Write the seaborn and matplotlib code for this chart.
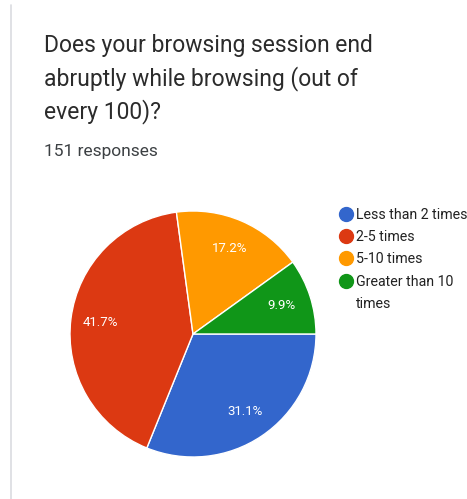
import matplotlib
matplotlib.use("Agg")
import matplotlib.pyplot as plt
from matplotlib.lines import Line2D
import seaborn as sns

# survey answers, counts out of 151 responses
answers = ["Less than 2 times", "2-5 times", "5-10 times", "Greater than 10 times"]
counts = [47, 63, 26, 15]
colors = ["#3366cc", "#dc3912", "#ff9900", "#109618"]

title_lines = ["Does your browsing session end", "abruptly while browsing (out of", "every 100)?"]
subtitle = "151 responses"

sns.set_theme(style="white")
plt.rcParams["font.family"] = ["Roboto", "DejaVu Sans"]

W, H = 467, 499
fig = plt.figure(figsize=(W / 100, H / 100), dpi=100)
fig.patch.set_facecolor("white")

# thin grey card edge on the left
fig.add_artist(Line2D([11 / W, 11 / W], [1 - 5 / H, 0], color="#dadce0", lw=1.2))

for i, line in enumerate(title_lines):
    fig.text(44 / W, 1 - (52 + 33 * i) / H, line, ha="left", va="baseline",
             fontsize=16.5, color="#2b2b2b")
fig.text(44 / W, 1 - 156 / H, subtitle, ha="left", va="baseline", fontsize=12.5,
         color="#3c4043")

# pie centre (193, 334) px, radius 123 px
r = 123
ax = fig.add_axes([(193 - r) / W, (H - 334 - r) / H, 2 * r / W, 2 * r / H])
wedges, _, autotexts = ax.pie(
    counts,
    colors=colors,
    startangle=0,
    counterclock=False,
    autopct="%1.1f%%",
    pctdistance=0.76,
    radius=1,
    wedgeprops=dict(edgecolor="white", linewidth=1),
    textprops=dict(color="white", fontsize=9.5),
)
ax.set_xlim(-1, 1)
ax.set_ylim(-1, 1)
ax.set_aspect("equal")
ax.axis("off")

# google forms wraps the long label; first line goes in the legend, rest below
shown = [a if len(a) < 18 else a.rsplit(" ", 1)[0] for a in answers]
handles = [Line2D([], [], marker="o", ls="", markersize=10, markerfacecolor=c,
                  markeredgecolor=c) for c in colors]
leg = fig.legend(handles, shown, loc="upper left", bbox_to_anchor=(339 / W, 1 - 208 / H),
                 frameon=False, fontsize=10.2, handletextpad=0.2, labelspacing=0.58,
                 handlelength=1.0, borderpad=0, borderaxespad=0, labelcolor="#222222")

fig.canvas.draw()
last = leg.get_texts()[-1]
bb = last.get_window_extent()
rest = answers[-1][len(shown[-1]):].strip()
fig.text(bb.x0 / W, (bb.y0 - 22) / H, rest, ha="left", va="bottom",
         fontsize=10.2, color="#222222")

fig.savefig("out.png", dpi=100)
